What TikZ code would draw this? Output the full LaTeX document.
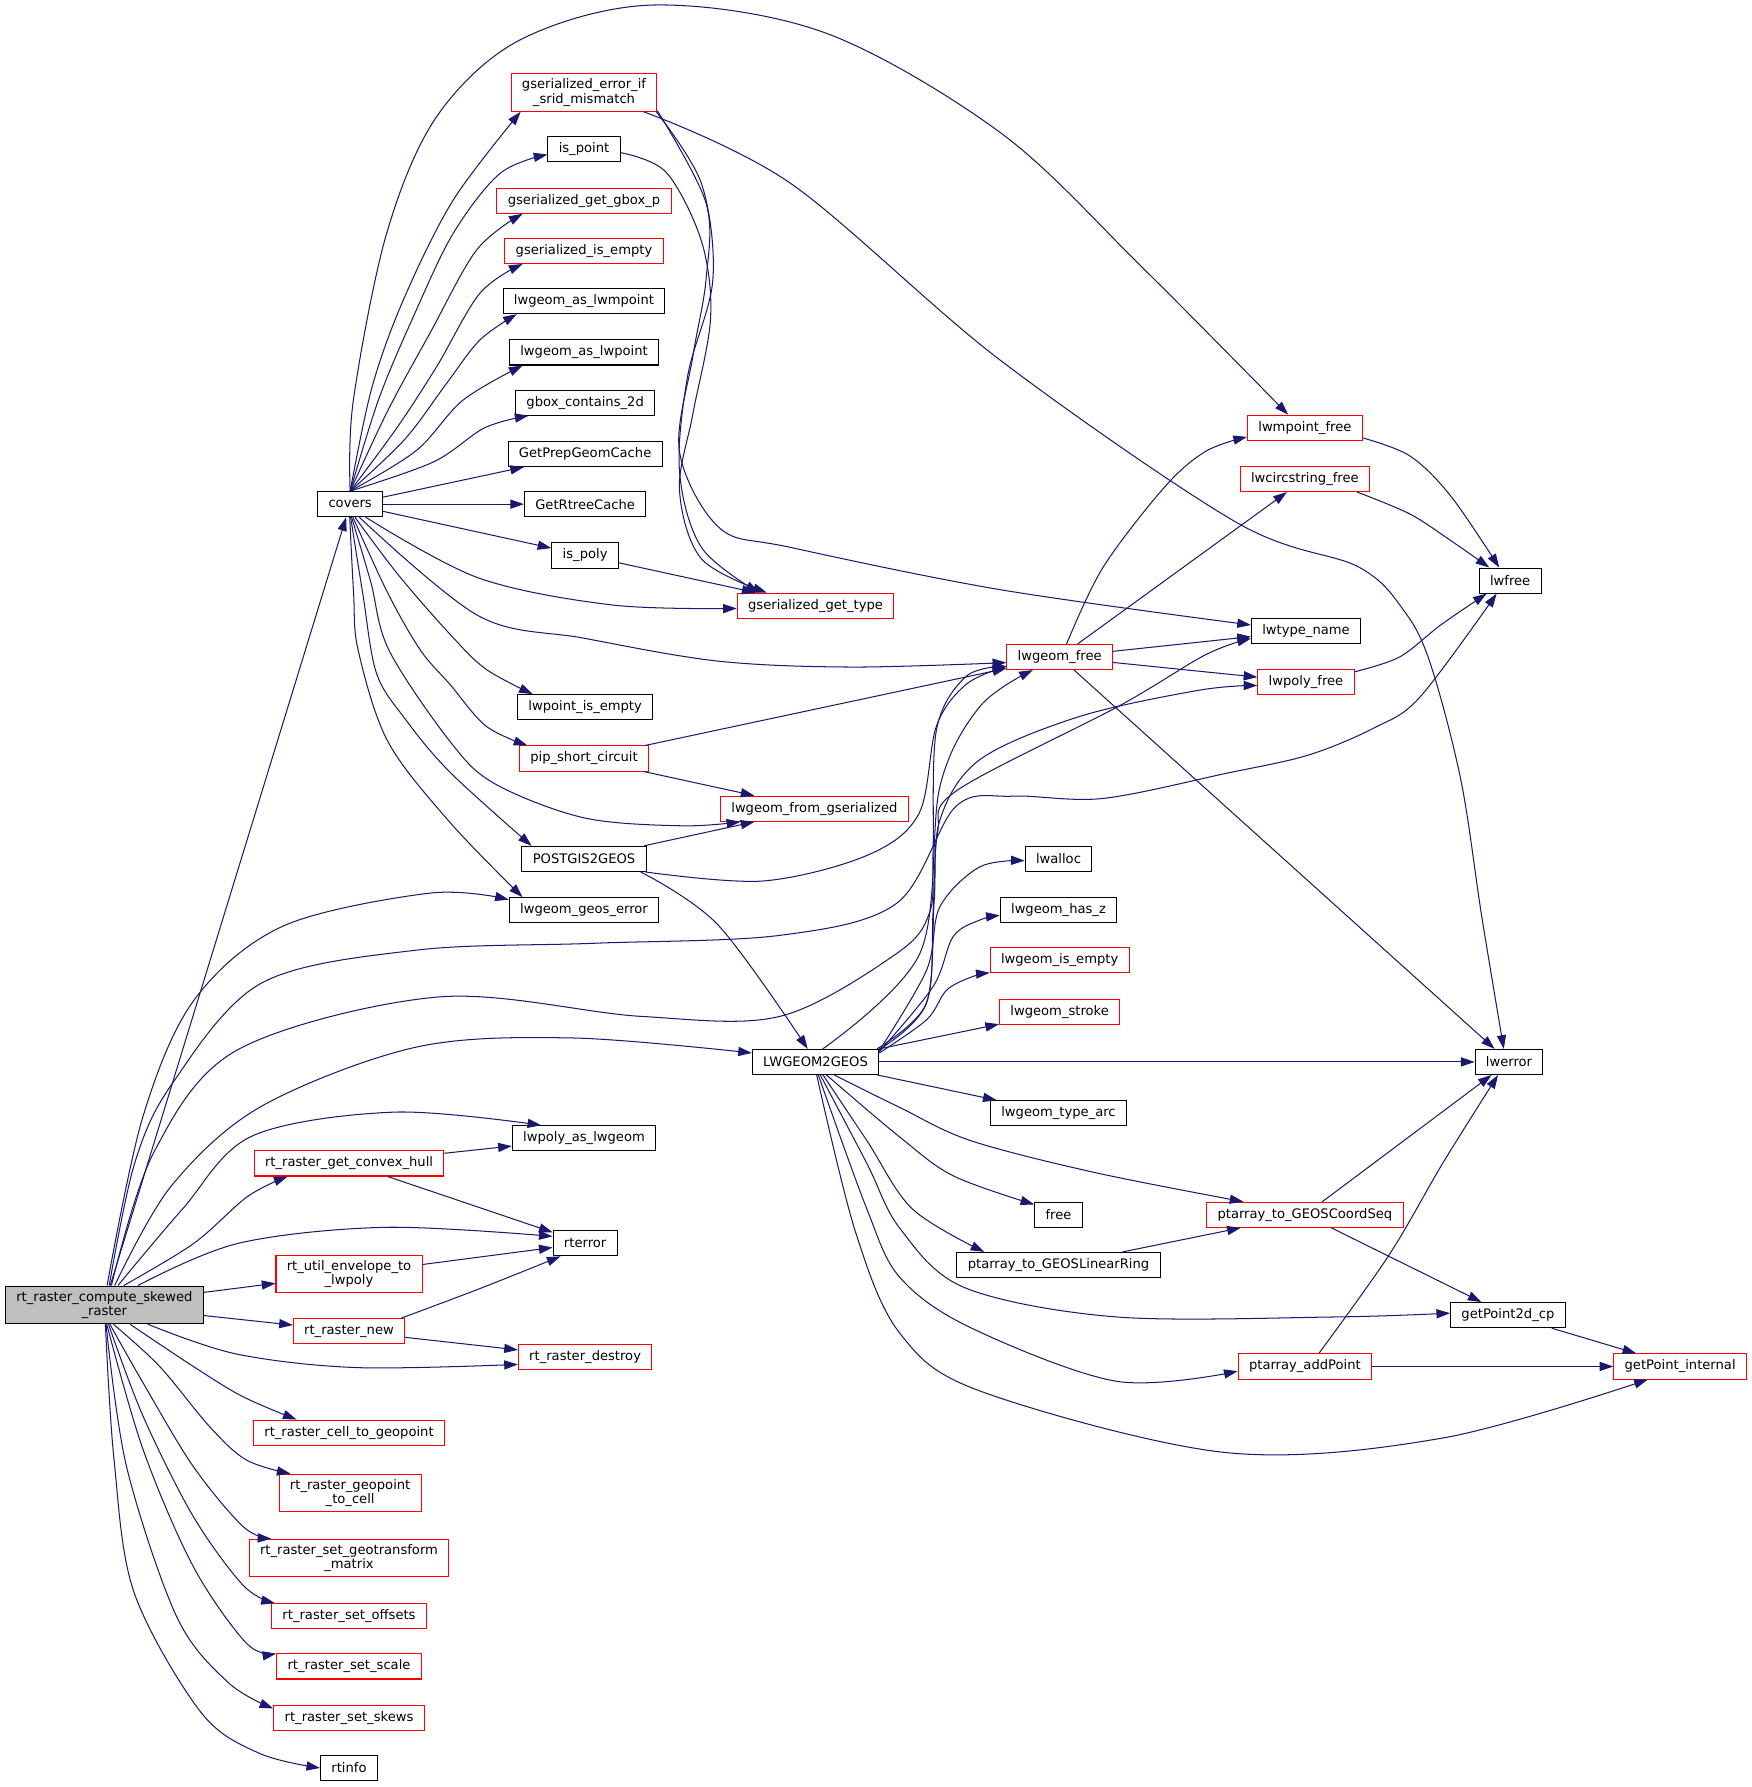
\documentclass[tikz,border=0pt]{standalone}
\usepackage{fontspec}
\setmainfont{DejaVu Sans}
\usetikzlibrary{arrows.meta}
\definecolor{edgec}{HTML}{191970}
\definecolor{nodered}{HTML}{FF0000}
\definecolor{mgray}{HTML}{BFBFBF}
\begin{document}
\begin{tikzpicture}[x=1pt,y=-1pt,
  nb/.style={draw=black, fill=white, line width=0.9pt, inner xsep=9.5pt, inner ysep=4.5pt, minimum height=22pt, align=center, font=\fontsize{11.5}{12.6}\selectfont},
  nr/.style={nb, draw=nodered},
  ng/.style={nb, fill=mgray},
  e/.style={draw=edgec, line width=0.9pt, -{Triangle[length=12pt,width=8pt]}},
  sm/.style={smooth, tension=0.55}]
\useasboundingbox[fill=white] (0,0) rectangle (1536,1566.7);
% nodes
\node[ng] (M) at (91.5,1144) {rt\_raster\_compute\_skewed\\\_raster};
\node[nb] (covers) at (307,442) {covers};
\node[nr] (cvx) at (306,1020) {rt\_raster\_get\_convex\_hull};
\node[nr] (env) at (306,1117) {rt\_util\_envelope\_to\\\_lwpoly};
\node[nr] (rnew) at (306,1167) {rt\_raster\_new};
\node[nr] (c2g) at (306,1256) {rt\_raster\_cell\_to\_geopoint};
\node[nr] (g2c) at (307,1309) {rt\_raster\_geopoint\\\_to\_cell};
\node[nr] (geot) at (306,1366) {rt\_raster\_set\_geotransform\\\_matrix};
\node[nr] (offs) at (306,1417) {rt\_raster\_set\_offsets};
\node[nr] (scale) at (306,1461) {rt\_raster\_set\_scale};
\node[nr] (skews) at (306,1506) {rt\_raster\_set\_skews};
\node[nb] (rtinfo) at (306,1550) {rtinfo};
\node[nr] (srid) at (512,81) {gserialized\_error\_if\\\_srid\_mismatch};
\node[nb] (ispt) at (512,131) {is\_point};
\node[nr] (gbox) at (512,176) {gserialized\_get\_gbox\_p};
\node[nr] (gisempty) at (512,220) {gserialized\_is\_empty};
\node[nb] (asmpt) at (512,264) {lwgeom\_as\_lwmpoint};
\node[nb] (aspt) at (512,309) {lwgeom\_as\_lwpoint};
\node[nb] (gbc) at (513,353) {gbox\_contains\_2d};
\node[nb] (gpgc) at (513,398) {GetPrepGeomCache};
\node[nb] (grc) at (513,442) {GetRtreeCache};
\node[nb] (ispoly) at (513,487) {is\_poly};
\node[nb] (lpie) at (513,620) {lwpoint\_is\_empty};
\node[nr] (pip) at (512,665) {pip\_short\_circuit};
\node[nb] (p2g) at (512,753) {POSTGIS2GEOS};
\node[nb] (geoserr) at (512,798) {lwgeom\_geos\_error};
\node[nb] (polyas) at (512,998) {lwpoly\_as\_lwgeom};
\node[nb] (rterror) at (513,1090) {rterror};
\node[nr] (rdestroy) at (513,1190) {rt\_raster\_destroy};
\node[nr] (gtype) at (715,531) {gserialized\_get\_type};
\node[nr] (lfromg) at (714,709) {lwgeom\_from\_gserialized};
\node[nb] (l2g) at (715,931) {LWGEOM2GEOS};
\node[nr] (lgfree) at (929,576) {lwgeom\_free};
\node[nb] (lwalloc) at (928,753) {lwalloc};
\node[nb] (hasz) at (928,798) {lwgeom\_has\_z};
\node[nr] (isempty) at (929,842) {lwgeom\_is\_empty};
\node[nr] (stroke) at (929,887) {lwgeom\_stroke};
\node[nb] (typearc) at (928,976) {lwgeom\_type\_arc};
\node[nb] (free) at (928,1065) {free};
\node[nb] (linring) at (928,1109) {ptarray\_to\_GEOSLinearRing};
\node[nr] (mptfree) at (1144,375) {lwmpoint\_free};
\node[nr] (circfree) at (1144,420) {lwcircstring\_free};
\node[nb] (typename) at (1145,553) {lwtype\_name};
\node[nr] (polyfree) at (1145,598) {lwpoly\_free};
\node[nr] (coordseq) at (1144,1065) {ptarray\_to\_GEOSCoordSeq};
\node[nr] (addpt) at (1144,1198) {ptarray\_addPoint};
\node[nb] (lwfree) at (1324,509) {lwfree};
\node[nb] (lwerror) at (1323,931) {lwerror};
\node[nb] (gp2d) at (1322,1153) {getPoint2d\_cp};
\node[nr] (gpi) at (1473,1198) {getPoint\_internal};
% edges from main node
\draw[e] (M) -- (covers);
\draw[e] plot[sm] coordinates {(M.82) (125,980) (170,877) (248,812) (377,783) (geoserr.172)};
\draw[e] plot[sm] coordinates {(M.76) (118,1020) (151,950) (229,862) (365,833) (520,827) (684,820) (786,792) (838,707) (888,698) (967,700) (1075,678) (1147,662) (1205,638) (1245,611) (lwfree.-136)};
\draw[e] plot[sm] coordinates {(M.70) (135,1010) (209,920) (385,874) (561,891) (684,891) (786,836) (815,800) (818,748) (821,640) (847,593) (lgfree.190)};
\draw[e] plot[sm] coordinates {(M.62) (150,1040) (229,970) (365,918) (502,910) (l2g.172)};
\draw[e] plot[sm] coordinates {(M.55) (160,1060) (221,996) (346,975) (polyas.163)};
\draw[e] plot[sm] coordinates {(M.45) (170,1090) (217,1049) (cvx.-168)};
\draw[e] plot[sm] coordinates {(M.30) (209,1090) (338,1076) (rterror.168)};
\draw[e] (M) -- (env);
\draw[e] (M) -- (rnew);
\draw[e] plot[sm] coordinates {(M.-24) (207,1187) (313,1199) (rdestroy.-174)};
\draw[e] plot[sm] coordinates {(M.-37) (169.5,1198) (213,1224.5) (c2g.166)};
\draw[e] plot[sm] coordinates {(M.-65) (140,1198) (184,1251) (216,1280) (g2c.162)};
\draw[e] plot[sm] coordinates {(M.-74) (125.6,1212.7) (169.5,1285.8) (213.3,1338.5) (geot.166)};
\draw[e] plot[sm] coordinates {(M.-78) (125.6,1242) (169.5,1329.6) (213.3,1390) (offs.170)};
\draw[e] plot[sm] coordinates {(M.-83) (125.6,1271.3) (169.5,1373.5) (216,1440.6) (scale.170)};
\draw[e] plot[sm] coordinates {(M.-85) (111,1286) (155,1417.6) (200,1475) (skews.173)};
\draw[e] plot[sm] coordinates {(M.-87) (100,1280) (117.5,1396) (176,1501) (227,1537) (rtinfo.west)};
% edges from convex hull etc.
\draw[e] (cvx) -- (polyas);
\draw[e] (cvx) -- (rterror);
\draw[e] (env) -- (rterror);
\draw[e] plot[sm] coordinates {(rnew.14) (420,1130) (rterror.-152)};
\draw[e] (rnew) -- (rdestroy);
% edges from covers
\draw[e] plot[sm] coordinates {(covers.north) (309.8,350.7) (339,204.5) (382.8,102.3) (455.9,35) (572.8,4.4) (724,29) (878,117) (1001,234) (mptfree.142)};
\draw[e] plot[sm] coordinates {(covers.north) (326,340) (353.6,263) (397.4,175.3) (srid.-163)};
\draw[e] plot[sm] coordinates {(covers.north) (332,350) (362.4,277.6) (397.4,204.5) (438.4,152) (ispt.-172)};
\draw[e] plot[sm] coordinates {(covers.north) (340,360) (377,292) (418,219) (gbox.-168)};
\draw[e] plot[sm] coordinates {(covers.north) (348,375) (382.8,321.5) (420.8,257) (gisempty.-168)};
\draw[e] plot[sm] coordinates {(covers.north) (355,385) (391.6,336) (420.8,298) (asmpt.-169)};
\draw[e] plot[sm] coordinates {(covers.north) (365,395) (406,350.7) (aspt.-168)};
\draw[e] plot[sm] coordinates {(covers.north) (380,405) (425,375) (gbc.-167)};
\draw[e] (covers) -- (gpgc);
\draw[e] (covers) -- (grc);
\draw[e] (covers) -- (ispoly);
\draw[e] plot[sm] coordinates {(covers.-40) (419.6,506.7) (537,530.4) (gtype.-178)};
\draw[e] plot[sm] coordinates {(covers.-55) (419.6,540) (512,559.5) (629.5,579.6) (747,584.8) (lgfree.-174)};
\draw[e] plot[sm] coordinates {(covers.-70) (350,505) (394.5,556) (425.8,586.5) (lpie.166)};
\draw[e] plot[sm] coordinates {(covers.-78) (340,520) (368.6,570) (394.5,600) (426,636.5) (pip.167)};
\draw[e] plot[sm] coordinates {(covers.-84) (325,510) (341,570) (394.5,650) (433.6,687) (512,717) (598,724) (lfromg.-170)};
\draw[e] plot[sm] coordinates {(covers.-88) (318,520) (330,590) (355,630) (394.5,677) (p2g.166)};
\draw[e] plot[sm] coordinates {(covers.-92) (310,520) (314,570) (340,650) (394.5,721) (geoserr.168)};
% srid, is_point, is_poly
\draw[e] plot[sm] coordinates {(srid.-18) (693.5,161) (876.7,315.6) (1084,458) (1191,497) (1232,537) (1254.6,583.6) (1281,685) (1299,803) (lwerror.112)};
\draw[e] plot[sm] coordinates {(srid.-15) (615,161) (625,245) (603,329) (595.7,413) (615,480) (gtype.167)};
\draw[e] plot[sm] coordinates {(srid.-14) (619,178) (619,245) (607.5,312) (595.7,396) (631,463) (693.5,480) (877,517) (typename.174)};
\draw[e] plot[sm] coordinates {(ispt.-5) (584,151) (615,211.5) (623,278.6) (607.5,362.6) (595.7,429.6) (615,490) (gtype.165)};
\draw[e] (ispoly) -- (gtype);
% pip, POSTGIS2GEOS
\draw[e] (pip) -- (lgfree);
\draw[e] (pip) -- (lfromg);
\draw[e] (p2g) -- (lfromg);
\draw[e] plot[sm] coordinates {(p2g.-12) (668.5,772.4) (760,750) (805.5,713.6) (821,636.5) (847,600) (lgfree.-170)};
\draw[e] plot[sm] coordinates {(p2g.-13) (629.6,811) (l2g.121)};
% LWGEOM2GEOS
\draw[e] plot[sm] coordinates {(l2g.61) (806.6,835.6) (824,689.7) (859,619.5) (lgfree.-154)};
\draw[e] plot[sm] coordinates {(l2g.12) (812,880) (818,800) (822,730) (839,693) (981,619) (1057,574) (typename.-172)};
\draw[e] plot[sm] coordinates {(l2g.11) (812,880) (819,790) (824,719) (859,666) (947,628) (1052,605) (polyfree.-176)};
\draw[e] plot[sm] coordinates {(l2g.10) (812.4,850.4) (824,795) (859,760) (lwalloc.-177)};
\draw[e] plot[sm] coordinates {(l2g.9) (818,865) (835.7,821) (859,806.6) (hasz.-175)};
\draw[e] plot[sm] coordinates {(l2g.8) (812.4,894) (830,868) (853,856) (isempty.-170)};
\draw[e] (l2g) -- (stroke);
\draw[e] (l2g) -- (lwerror);
\draw[e] (l2g) -- (typearc);
\draw[e] plot[sm] coordinates {(l2g.-50) (789,997) (836,1031) (free.157)};
\draw[e] plot[sm] coordinates {(l2g.-35) (789,971) (851,1000) (960,1028) (coordseq.168)};
\draw[e] plot[sm] coordinates {(l2g.-60) (760,1000) (800,1060) (linring.170)};
\draw[e] plot[sm] coordinates {(l2g.-70) (760,1020) (789,1077) (846,1129) (979,1154.6) (1170,1154.6) (gp2d.178)};
\draw[e] plot[sm] coordinates {(l2g.-78) (760,1060) (789,1120) (851,1164) (979,1211) (addpt.-176)};
\draw[e] plot[sm] coordinates {(l2g.-85) (750,1080) (789,1169) (860.5,1220) (1075,1273.5) (1265,1260.7) (gpi.-158)};
% lwgeom_free
\draw[e] plot[sm] coordinates {(lgfree.62) (967,497.5) (1021,427) (1057,395.7) (mptfree.-171)};
\draw[e] (lgfree) -- (circfree);
\draw[e] (lgfree) -- (typename);
\draw[e] (lgfree) -- (polyfree);
\draw[e] (lgfree) -- (lwerror);
% free functions
\draw[e] plot[sm] coordinates {(mptfree.-10) (1236,399.7) (1272,435) (lwfree.130)};
\draw[e] plot[sm] coordinates {(circfree.-14) (1236,450.6) (1272,474) (lwfree.148)};
\draw[e] plot[sm] coordinates {(polyfree.12) (1227,576) (1263,548) (lwfree.-151)};
% point arrays
\draw[e] (coordseq) -- (lwerror);
\draw[e] (coordseq) -- (gp2d);
\draw[e] (linring) -- (coordseq);
\draw[e] plot[sm] coordinates {(addpt.43) (1218,1100) (1265,1019.6) (lwerror.-130)};
\draw[e] (addpt) -- (gpi);
\draw[e] (gp2d) -- (gpi);
\end{tikzpicture}
\end{document}
